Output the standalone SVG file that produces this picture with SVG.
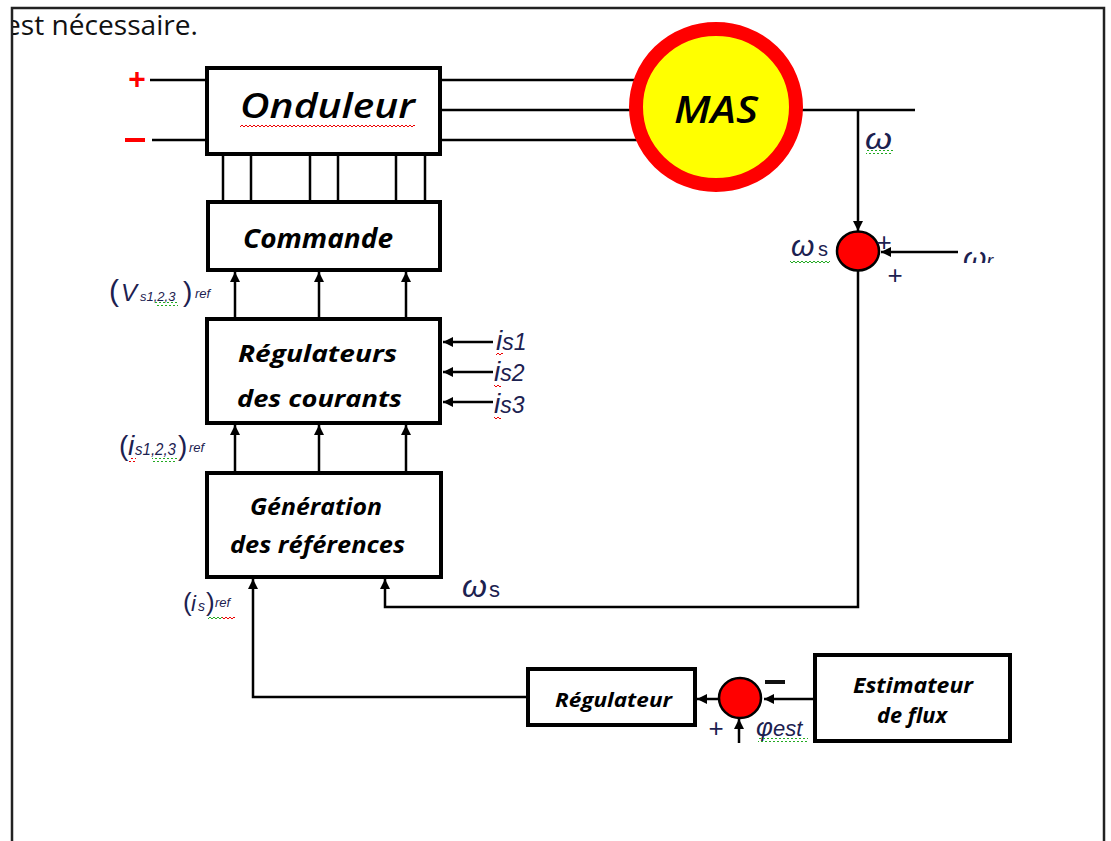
<svg xmlns="http://www.w3.org/2000/svg" width="1111" height="841" viewBox="0 0 1111 841">
<defs>
<style>
.box{fill:#fff;stroke:#000;stroke-width:4}
.ln{fill:none;stroke:#000;stroke-width:2.5}
.arr{fill:none;stroke:#000;stroke-width:2.5;marker-end:url(#ah)}
.lbl{font-family:"Open Sans","Liberation Sans",sans-serif;font-style:italic;font-weight:bold;fill:#000}
.lt{font-family:"Liberation Sans",Arial,sans-serif;font-style:italic;fill:#1c2150}
.sum{fill:#f00;stroke:#000;stroke-width:2.5}
.pl{font-family:"Liberation Sans",Arial,sans-serif;fill:#1c2150}
</style>
<marker id="ah" viewBox="0 0 10 10" refX="10" refY="5" markerWidth="11" markerHeight="10" markerUnits="userSpaceOnUse" orient="auto"><path d="M0,0 L10,5 L0,10 z" fill="#000"/></marker>
<pattern id="sqR" width="4" height="4" patternUnits="userSpaceOnUse"><path d="M0,3 L2,1 L4,3" stroke="#e00" fill="none" stroke-width="1"/></pattern>
<pattern id="sqG" width="4" height="4" patternUnits="userSpaceOnUse"><path d="M0,3 L2,1 L4,3" stroke="#2a2" fill="none" stroke-width="1"/></pattern>
<clipPath id="clipFrame"><rect x="13" y="9" width="1090" height="840"/></clipPath>
<clipPath id="clipWr"><rect x="950" y="240" width="80" height="23"/></clipPath>
</defs>

<rect x="12" y="8" width="1092" height="900" fill="#fff" stroke="#222" stroke-width="2.5"/>
<text x="5" y="35" clip-path="url(#clipFrame)" font-family="'Open Sans','Liberation Sans',sans-serif" font-size="27" fill="#111" textLength="193" lengthAdjust="spacingAndGlyphs">est nécessaire.</text>

<g id="connectors">
<line class="ln" x1="150" y1="80" x2="207" y2="80"/>
<line class="ln" x1="152" y1="140" x2="207" y2="140"/>
<line class="ln" x1="440" y1="80" x2="640" y2="80"/>
<line class="ln" x1="440" y1="110" x2="632" y2="110"/>
<line class="ln" x1="440" y1="140" x2="640" y2="140"/>
<line class="ln" x1="800" y1="110" x2="915" y2="110"/>
<line class="ln" x1="223" y1="154" x2="223" y2="202"/>
<line class="ln" x1="251" y1="154" x2="251" y2="202"/>
<line class="ln" x1="310" y1="154" x2="310" y2="202"/>
<line class="ln" x1="338" y1="154" x2="338" y2="202"/>
<line class="ln" x1="396" y1="154" x2="396" y2="202"/>
<line class="ln" x1="425" y1="154" x2="425" y2="202"/>
<line class="arr" x1="235" y1="319" x2="235" y2="272"/>
<line class="arr" x1="319" y1="319" x2="319" y2="272"/>
<line class="arr" x1="406" y1="319" x2="406" y2="272"/>
<line class="arr" x1="235" y1="473" x2="235" y2="425"/>
<line class="arr" x1="319" y1="473" x2="319" y2="425"/>
<line class="arr" x1="406" y1="473" x2="406" y2="425"/>
<line class="arr" x1="493" y1="342" x2="443" y2="342"/>
<line class="arr" x1="493" y1="372" x2="443" y2="372"/>
<line class="arr" x1="493" y1="402" x2="443" y2="402"/>
<line class="arr" x1="858" y1="110" x2="858" y2="231"/>
<line class="arr" x1="958" y1="252" x2="881" y2="252"/>
<polyline class="arr" points="858,271 858,607 385,607 385,579"/>
<polyline class="arr" points="528,697 253,697 253,579"/>
<line class="arr" x1="718" y1="699" x2="697" y2="699"/>
<line class="arr" x1="815" y1="699" x2="764" y2="699"/>
<line class="arr" x1="739" y1="743" x2="739" y2="719"/>
</g>

<g id="onduleur">
<rect class="box" x="207" y="68" width="233" height="86"/>
<text x="240" y="118" font-family="'Open Sans','Liberation Sans',sans-serif" font-style="italic" font-weight="600" font-size="35" textLength="175" lengthAdjust="spacingAndGlyphs">Onduleur</text>
<rect x="240" y="124" width="175" height="4" fill="url(#sqR)"/>
<text x="137" y="89" text-anchor="middle" font-family="'Liberation Sans',sans-serif" font-weight="bold" font-size="30" fill="#f00">+</text>
<rect x="125" y="138" width="20" height="4" fill="#f00"/>
</g>

<g id="mas">
<ellipse cx="716" cy="107" rx="80" ry="78" fill="#ff0" stroke="#f00" stroke-width="14"/>
<text x="674" y="123" font-family="'Open Sans','Liberation Sans',sans-serif" font-style="italic" font-weight="600" font-size="38" textLength="84" lengthAdjust="spacingAndGlyphs">MAS</text>
</g>

<g id="commande">
<rect class="box" x="208" y="202" width="232" height="68"/>
<text class="lbl" x="243" y="248" font-size="26" textLength="150" lengthAdjust="spacingAndGlyphs">Commande</text>
</g>

<g id="regulateurs">
<rect class="box" x="207" y="319" width="233" height="104"/>
<text class="lbl" x="238" y="362" font-size="24" textLength="159" lengthAdjust="spacingAndGlyphs">Régulateurs</text>
<text class="lbl" x="237" y="407" font-size="24" textLength="165" lengthAdjust="spacingAndGlyphs">des courants</text>
</g>

<g id="generation">
<rect class="box" x="207" y="473" width="234" height="104"/>
<text class="lbl" x="250" y="515" font-size="24" textLength="132" lengthAdjust="spacingAndGlyphs">Génération</text>
<text class="lbl" x="230" y="553" font-size="24" textLength="175" lengthAdjust="spacingAndGlyphs">des références</text>
</g>

<g id="sum1">
<ellipse class="sum" cx="858" cy="251" rx="21" ry="19.5"/>
<text class="pl" x="884" y="251" text-anchor="middle" font-size="26">+</text>
<text class="pl" x="895" y="284" text-anchor="middle" font-size="26">+</text>
</g>

<g id="regulateur">
<rect class="box" x="528" y="669" width="167" height="56"/>
<text class="lbl" x="555" y="707" font-size="20" textLength="117" lengthAdjust="spacingAndGlyphs">Régulateur</text>
</g>

<g id="sum2">
<ellipse class="sum" cx="740" cy="698" rx="21" ry="20"/>
<rect x="765" y="680" width="20" height="4" fill="#111"/>
<text class="pl" x="716" y="737" text-anchor="middle" font-size="26">+</text>
</g>

<g id="estimateur">
<rect class="box" x="815" y="655" width="195" height="86"/>
<text class="lbl" x="853" y="693" font-size="21" textLength="120" lengthAdjust="spacingAndGlyphs">Estimateur</text>
<text class="lbl" x="877" y="723" font-size="21" textLength="70" lengthAdjust="spacingAndGlyphs">de flux</text>
</g>

<g id="labels">
<text class="lt" x="865" y="149" font-size="30" textLength="27" lengthAdjust="spacingAndGlyphs">ω</text>
<rect x="866" y="150" width="27" height="4" fill="url(#sqG)"/>
<text class="lt" x="791" y="256"><tspan font-size="30">ω</tspan><tspan x="818" font-size="20" font-style="normal">s</tspan></text>
<rect x="790" y="260" width="40" height="4" fill="url(#sqG)"/>
<g clip-path="url(#clipWr)"><text class="lt" x="963" y="268" font-size="30">ω<tspan font-size="20">r</tspan></text></g>
<text class="lt" x="462" y="597"><tspan font-size="32">ω</tspan><tspan x="489" font-size="22" font-style="normal">s</tspan></text>
<text class="lt" y="301" font-size="24"><tspan x="109" font-size="30" font-style="normal">(</tspan><tspan x="121">V</tspan><tspan x="140" font-size="13">s1,2,3</tspan><tspan x="183" font-size="28" font-style="normal">)</tspan><tspan x="195" y="298" font-size="13">ref</tspan></text>
<rect x="155" y="302" width="23" height="4" fill="url(#sqG)"/>
<text class="lt" y="455" font-size="21"><tspan x="119" font-size="28" font-style="normal">(</tspan><tspan x="128" font-size="28">i</tspan><tspan x="135" font-size="16" textLength="41" lengthAdjust="spacingAndGlyphs">s1,2,3</tspan><tspan x="178" font-size="28" font-style="normal">)</tspan><tspan x="189" y="452" font-size="13">ref</tspan></text>
<rect x="129" y="458" width="7" height="4" fill="url(#sqR)"/>
<rect x="152" y="458" width="25" height="4" fill="url(#sqG)"/>
<text class="lt" x="496" y="350" font-size="23"><tspan font-size="28">i</tspan>s1</text>
<rect x="496" y="352" width="7" height="4" fill="url(#sqR)"/>
<text class="lt" x="494" y="381" font-size="23"><tspan font-size="28">i</tspan>s2</text>
<rect x="494" y="384" width="7" height="4" fill="url(#sqR)"/>
<text class="lt" x="494" y="413" font-size="23"><tspan font-size="28">i</tspan>s3</text>
<rect x="494" y="415" width="7" height="4" fill="url(#sqR)"/>
<text class="lt" y="611" font-size="22"><tspan x="183" font-size="26" font-style="normal">(</tspan><tspan x="191">i</tspan><tspan x="198" font-size="14">s</tspan><tspan x="206" font-size="26" font-style="normal">)</tspan><tspan x="215" y="607" font-size="13">ref</tspan></text>
<rect x="208" y="615" width="14" height="4" fill="url(#sqG)"/>
<rect x="222" y="615" width="13" height="4" fill="url(#sqR)"/>
<text class="lt" x="756" y="736"><tspan font-size="26">φ</tspan><tspan font-size="22">est</tspan></text>
<rect x="758" y="738" width="50" height="4" fill="url(#sqG)"/>
</g>
</svg>
